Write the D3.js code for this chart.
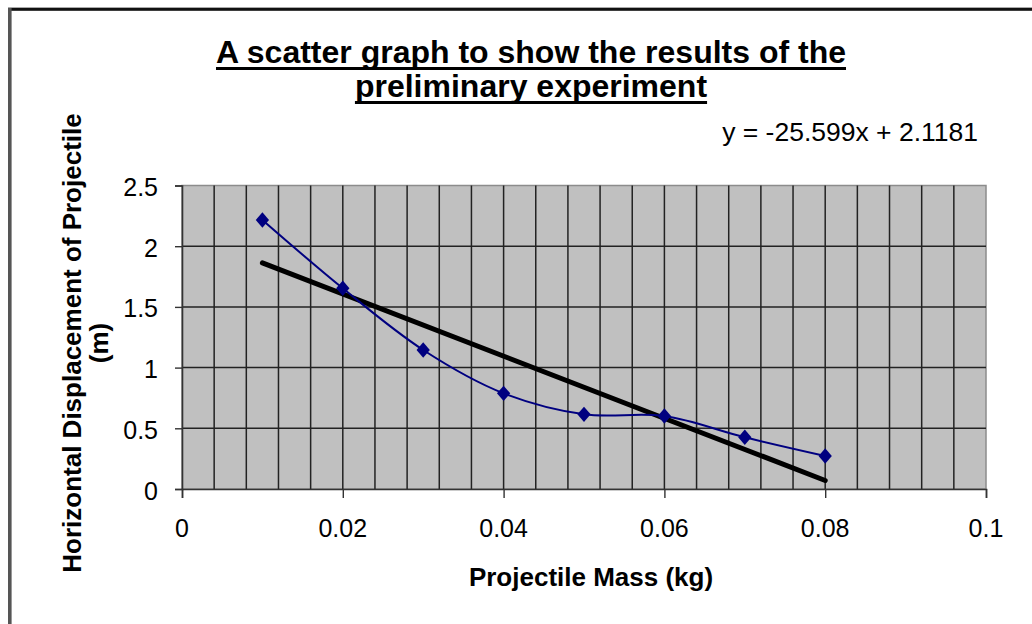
<!DOCTYPE html>
<html>
<head>
<meta charset="utf-8">
<script src="https://cdn.jsdelivr.net/npm/d3@7"></script>
<style>
  html, body { margin: 0; padding: 0; background: #fff; }
  svg { display: block; }
  text { font-family: "Liberation Sans", Arial, sans-serif; }
</style>
</head>
<body>
<script>
// data
var massKg = [0.01, 0.02, 0.03, 0.04, 0.05, 0.06, 0.07, 0.08];
var displacementM = [2.216, 1.653, 1.145, 0.788, 0.615, 0.601, 0.426, 0.272];
var trendSlope = -25.599, trendIntercept = 2.1181;
var xTickValues = [0, 0.02, 0.04, 0.06, 0.08, 0.1];
var xTickLabels = ["0", "0.02", "0.04", "0.06", "0.08", "0.1"];
var yTickValues = [0, 0.5, 1, 1.5, 2, 2.5];
var yTickLabels = ["0", "0.5", "1", "1.5", "2", "2.5"];
var xGridStep = 0.004;
var titleLines = ["A scatter graph to show the results of the", "preliminary experiment"];
var yTitleLines = ["Horizontal Displacement of Projectile", "(m)"];
var xTitle = "Projectile Mass (kg)";
var equationText = "y = -25.599x + 2.1181";

var W = 1032, H = 624;
var svg = d3.select("body").append("svg").attr("width", W).attr("height", H);

// outer chart frame (only top and left edges visible)
svg.append("rect").attr("x", 8).attr("y", 7).attr("width", W - 8).attr("height", 1.2).attr("fill", "#aaa");
svg.append("rect").attr("x", 8).attr("y", 8).attr("width", W - 8).attr("height", 2.8).attr("fill", "#111");
svg.append("rect").attr("x", 8).attr("y", 8).attr("width", 3.6).attr("height", H - 8).attr("fill", "#555");

var x = d3.scaleLinear().domain([0, 0.1]).range([182, 986]);
var y = d3.scaleLinear().domain([0, 2.5]).range([489, 185.5]);

// plot area
svg.append("rect")
    .attr("x", x(0)).attr("y", y(2.5))
    .attr("width", x(0.1) - x(0)).attr("height", y(0) - y(2.5))
    .attr("fill", "#c0c0c0")
    .attr("stroke", "#8c8c8c").attr("stroke-width", 1.5);

// vertical gridlines
var gridX = d3.range(1, Math.round(0.1 / xGridStep)).map(function(i) { return i * xGridStep; });
svg.append("g").selectAll("line").data(gridX).enter().append("line")
    .attr("x1", function(d) { return x(d); }).attr("x2", function(d) { return x(d); })
    .attr("y1", y(2.5)).attr("y2", y(0))
    .attr("stroke", "#222").attr("stroke-width", 1.5);

// horizontal gridlines
svg.append("g").selectAll("line").data(yTickValues.slice(1, -1)).enter().append("line")
    .attr("x1", x(0)).attr("x2", x(0.1))
    .attr("y1", function(d) { return y(d); }).attr("y2", function(d) { return y(d); })
    .attr("stroke", "#222").attr("stroke-width", 1.5);

// axes
var xAxis = d3.axisBottom(x).tickValues(xTickValues).tickSize(9).tickFormat("");
var yAxis = d3.axisLeft(y).tickValues(yTickValues).tickSize(7).tickFormat("");
var gx = svg.append("g").attr("transform", "translate(0," + y(0) + ")").call(xAxis);
var gy = svg.append("g").attr("transform", "translate(" + x(0) + ",0)").call(yAxis);
[gx, gy].forEach(function(g) {
    g.select(".domain").attr("stroke", "#333").attr("stroke-width", 1.6);
    g.selectAll(".tick line").attr("stroke", "#333").attr("stroke-width", 1.4);
});

// tick labels
svg.append("g").selectAll("text").data(xTickValues).enter().append("text")
    .attr("x", function(d) { return x(d); }).attr("y", 537)
    .attr("text-anchor", "middle").attr("font-size", 25).attr("fill", "#000")
    .text(function(d, i) { return xTickLabels[i]; });
svg.append("g").selectAll("text").data(yTickValues).enter().append("text")
    .attr("x", 158).attr("y", function(d) { return y(d) + 10.5; })
    .attr("text-anchor", "end").attr("font-size", 25).attr("fill", "#000")
    .text(function(d, i) { return yTickLabels[i]; });

// trendline
var trendX = [d3.min(massKg), d3.max(massKg)];
svg.append("line")
    .attr("x1", x(trendX[0])).attr("y1", y(trendSlope * trendX[0] + trendIntercept))
    .attr("x2", x(trendX[1])).attr("y2", y(trendSlope * trendX[1] + trendIntercept))
    .attr("stroke", "#000").attr("stroke-width", 5).attr("stroke-linecap", "round");

// smoothed series
var pts = massKg.map(function(m, i) { return [m, displacementM[i]]; });
var line = d3.line()
    .x(function(d) { return x(d[0]); })
    .y(function(d) { return y(d[1]); })
    .curve(d3.curveCatmullRom.alpha(0.5));
svg.append("path").datum(pts).attr("d", line)
    .attr("fill", "none").attr("stroke", "#000080").attr("stroke-width", 2);

svg.append("g").selectAll("path").data(pts).enter().append("path")
    .attr("d", d3.symbol().type(d3.symbolDiamond2).size(125))
    .attr("transform", function(d) { return "translate(" + x(d[0]) + "," + y(d[1]) + ") scale(0.95,1.1)"; })
    .attr("fill", "#000080");

// title with underlines
var titleBase = [63, 97];
titleLines.forEach(function(t, i) {
    var el = svg.append("text")
        .attr("x", 531).attr("y", titleBase[i])
        .attr("text-anchor", "middle").attr("font-size", 32).attr("font-weight", "bold")
        .text(t);
    var w = el.node().getComputedTextLength();
    svg.append("line")
        .attr("x1", 531 - w / 2).attr("x2", 531 + w / 2)
        .attr("y1", titleBase[i] + 5.5).attr("y2", titleBase[i] + 5.5)
        .attr("stroke", "#000").attr("stroke-width", 2.8);
});

// trendline equation
svg.append("text").attr("x", 978).attr("y", 141)
    .attr("text-anchor", "end").attr("font-size", 26.5)
    .text(equationText);

// axis titles
svg.append("text").attr("x", 591).attr("y", 586)
    .attr("text-anchor", "middle").attr("font-size", 26).attr("font-weight", "bold")
    .text(xTitle);

var yTitleBase = [81, 108];
yTitleLines.forEach(function(t, i) {
    svg.append("text")
        .attr("transform", "translate(" + yTitleBase[i] + ",343) rotate(-90)")
        .attr("text-anchor", "middle").attr("font-size", 26).attr("font-weight", "bold")
        .text(t);
});
</script>
</body>
</html>
